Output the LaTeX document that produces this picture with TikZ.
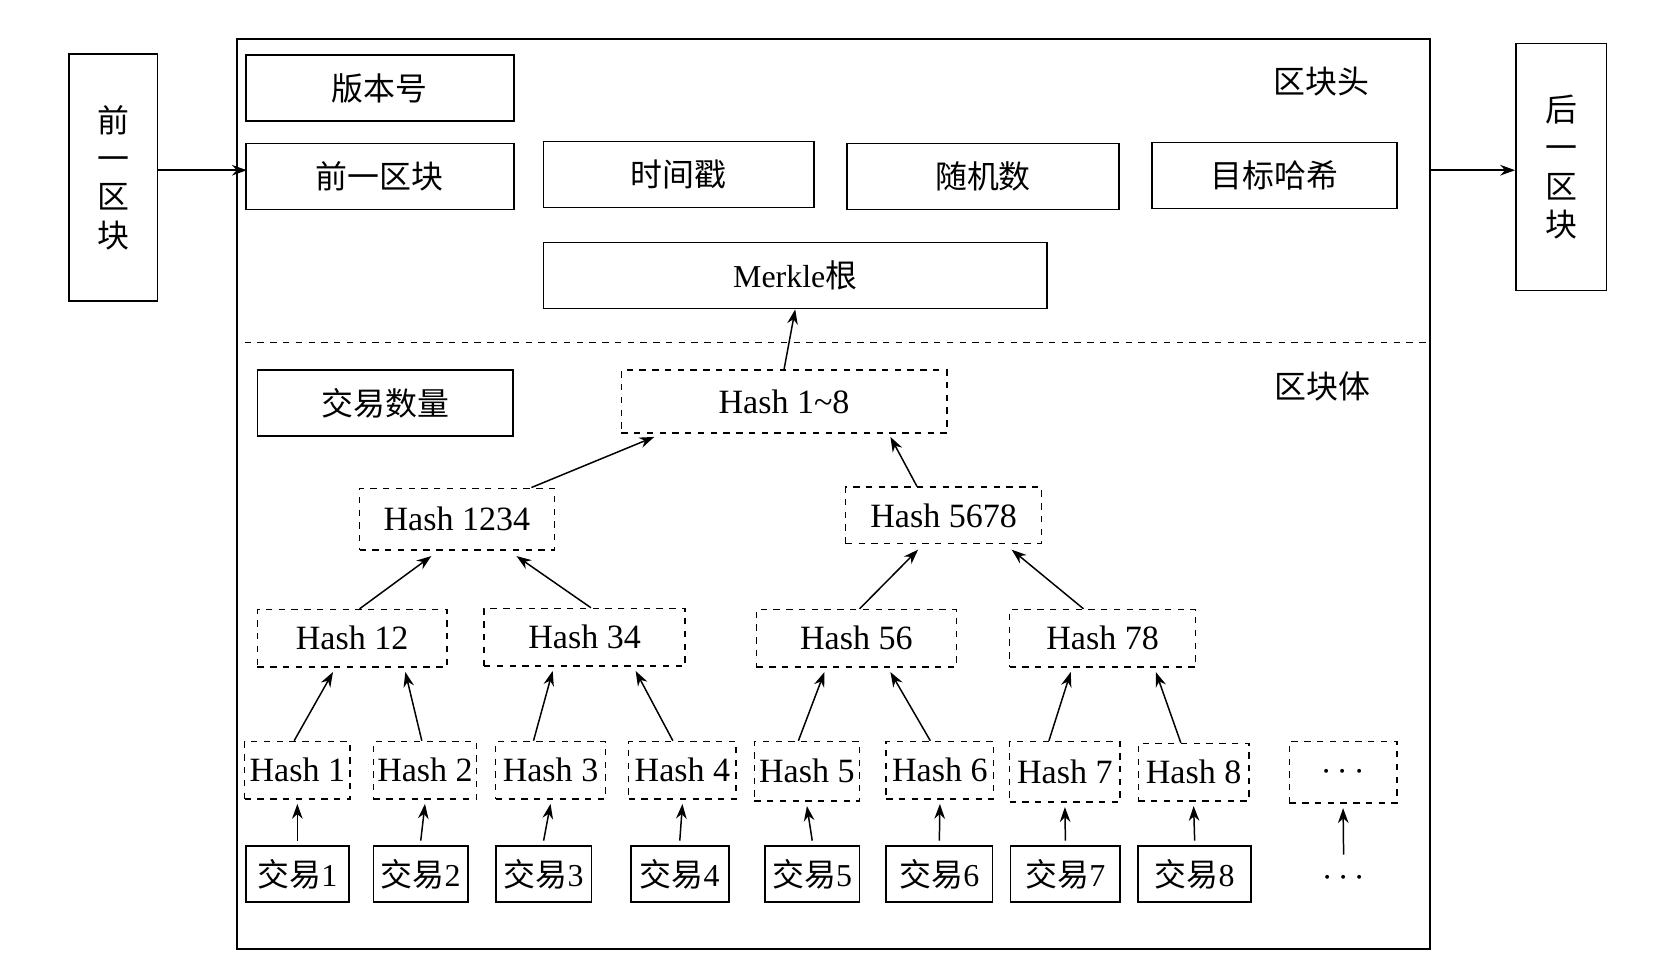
\documentclass[tikz,border=0pt]{standalone}
\usepackage{fontspec}
\setmainfont{Liberation Serif}
\newfontfamily\cjk{Noto Sans CJK SC}
\usetikzlibrary{arrows.meta}
\begin{document}
\begin{tikzpicture}[x=0.5pt,y=0.5pt,yscale=-1,
  sz/.style 2 args={minimum width=#1*0.5pt,minimum height=#2*0.5pt},
  box/.style={draw,line width=0.8pt,inner sep=0pt,font=\cjk\fontsize{15}{18}\selectfont},
  hbox/.style={draw,dashed,line width=0.7pt,inner sep=0pt,font=\fontsize{16}{18}\selectfont},
  arr/.style={-{Stealth[length=7pt,width=5pt]},line width=0.7pt}]
\useasboundingbox (0,0) rectangle (1567,911);

%Shape: outer frame
\draw [line width=0.9pt] (223,37) rectangle (1344,892);
\draw [dashed,line width=0.8pt] (230,322) -- (1342,322);

% neighbour blocks
\node [box,sz={83}{232},align=center] (prev) at (106.5,167) {前\\一\\区\\块};
\node [box,sz={85}{232},align=center] (next) at (1467.5,157) {后\\一\\区\\块};

% header
\node [box,sz={252}{62}] (ver) at (357,83) {版本号};
\node [box,sz={252}{62}] (ph) at (357,166) {前一区块};
\node [box,sz={254}{62}] (ts) at (638,164) {时间戳};
\node [box,sz={256}{62}] (nonce) at (924,166) {随机数};
\node [box,sz={230}{62}] (target) at (1198,165) {目标哈希};
\node [box,sz={473}{62}] (root) at (747.5,259) {{\rmfamily Merkle}根};
\node [font=\cjk\fontsize{15}{18}\selectfont] (headlbl) at (1242,77) {区块头};
\node [font=\cjk\fontsize{15}{18}\selectfont] (bodylbl) at (1243,363) {区块体};
\coordinate (pin) at (232,160);
\coordinate (pout) at (1344,160);
\draw [arr] (prev.east |- pin) -- (pin);
\draw [arr] (pout) -- (next.west |- pout);

% body
\node [box,sz={240}{62}] (cnt) at (362,379) {交易数量};
\node [hbox,sz={306}{59}] (h18) at (737,377.5) {Hash 1\textasciitilde 8};
\node [hbox,sz={183}{58}] (h1234) at (429.5,488) {Hash 1234};
\node [hbox,sz={184}{53}] (h5678) at (887,484.5) {Hash 5678};
\node [hbox,sz={178}{54}] (h12) at (331,600) {Hash 12};
\node [hbox,sz={189}{54}] (h34) at (549.5,599) {Hash 34};
\node [hbox,sz={188}{54}] (h56) at (805,600) {Hash 56};
\node [hbox,sz={175}{54}] (h78) at (1036.5,600) {Hash 78};
\node [hbox,sz={99}{54}] (h1) at (279.5,724) {Hash 1};
\node [hbox,sz={97}{54}] (h2) at (399.5,724) {Hash 2};
\node [hbox,sz={103}{54}] (h3) at (517.5,724) {Hash 3};
\node [hbox,sz={101}{54}] (h4) at (641.5,724) {Hash 4};
\node [hbox,sz={99}{56}] (h5) at (758.5,725) {Hash 5};
\node [hbox,sz={101}{54}] (h6) at (883.5,724) {Hash 6};
\node [hbox,sz={104}{57}] (h7) at (1001,725.5) {Hash 7};
\node [hbox,sz={104}{54}] (h8) at (1122,726) {Hash 8};
\node [hbox,sz={101}{58}] (hx) at (1262.5,726) {$\cdots$};
\node [box,sz={97}{53}] (t1) at (279.5,821.5) {交易{\rmfamily 1}};
\node [box,sz={89}{53}] (t2) at (395.5,821.5) {交易{\rmfamily 2}};
\node [box,sz={90}{53}] (t3) at (511,821.5) {交易{\rmfamily 3}};
\node [box,sz={92}{53}] (t4) at (639,821.5) {交易{\rmfamily 4}};
\node [box,sz={89}{53}] (t5) at (763.5,821.5) {交易{\rmfamily 5}};
\node [box,sz={100}{53}] (t6) at (883,821.5) {交易{\rmfamily 6}};
\node [box,sz={103}{53}] (t7) at (1001.5,821.5) {交易{\rmfamily 7}};
\node [box,sz={106}{53}] (t8) at (1123,821.5) {交易{\rmfamily 8}};
\node [font=\fontsize{16}{18}\selectfont] (tx) at (1263,826) {$\cdots$};

% arrows (shifts in pt, half of a unit)
\draw [arr] (h18.north) -- (root.south);
\foreach \t/\h in {t1/h1,t2/h2,t3/h3,t4/h4,t5/h5,t6/h6,t7/h7,t8/h8}
  \draw [arr] ([yshift=-2pt]\t.north) -- ([yshift=2pt]\h.south);
\draw [arr] ([yshift=-4pt]tx.north) -- ([yshift=2pt]hx.south);
\draw [arr] ([xshift=-1.5pt]h1.north) -- ([xshift=-9pt,yshift=2pt]h12.south);
\draw [arr] ([xshift=-1.5pt]h2.north) -- ([xshift=25pt,yshift=2pt]h12.south);
\draw [arr] ([xshift=-8pt]h3.north) -- ([xshift=-15pt,yshift=2pt]h34.south);
\draw [arr] ([xshift=-4.5pt]h4.north) -- ([xshift=24pt,yshift=2pt]h34.south);
\draw [arr] ([xshift=-4pt]h5.north) -- ([xshift=-15pt,yshift=2pt]h56.south);
\draw [arr] ([xshift=-4.5pt]h6.north) -- ([xshift=16pt,yshift=2pt]h56.south);
\draw [arr] ([xshift=-7.5pt]h7.north) -- ([xshift=-15pt,yshift=2pt]h78.south);
\draw [arr] ([xshift=-6pt]h8.north) -- ([xshift=25pt,yshift=2pt]h78.south);
\draw [arr] ([xshift=3.5pt]h12.north) -- ([xshift=-12pt,yshift=2.5pt]h1234.south);
\draw [arr] ([xshift=3pt]h34.north) -- ([xshift=28pt,yshift=2.5pt]h1234.south);
\draw [arr] ([xshift=1.5pt]h56.north) -- ([xshift=-12pt,yshift=2.5pt]h5678.south);
\draw [arr] ([xshift=-9pt]h78.north) -- ([xshift=32pt,yshift=2.5pt]h5678.south);
\draw [arr] ([xshift=35pt]h1234.north) -- ([xshift=-61pt,yshift=1.5pt]h18.south);
\draw [arr] ([xshift=-12.5pt]h5678.north) -- ([xshift=50pt,yshift=1.5pt]h18.south);
\end{tikzpicture}
\end{document}
